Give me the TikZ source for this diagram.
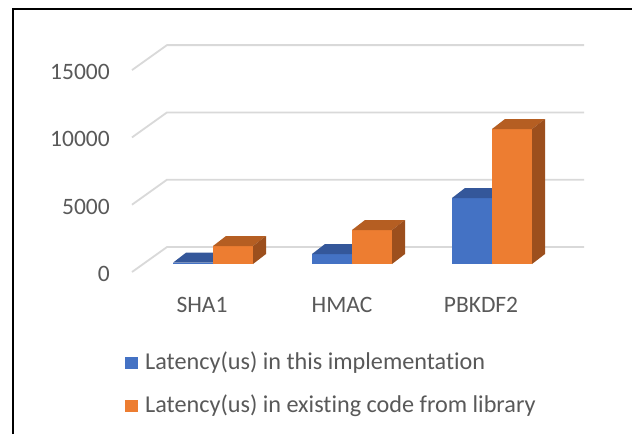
\documentclass[tikz,border=0pt]{standalone}
\usepackage{fontspec}
\setmainfont[Ligatures=NoCommon]{Carlito}
\definecolor{txt}{HTML}{595959}
\definecolor{grid}{HTML}{D9D9D9}
\definecolor{bluefront}{HTML}{4472C4}
\definecolor{bluetop}{HTML}{34579A}
\definecolor{orangefront}{HTML}{ED7D31}
\definecolor{orangetop}{HTML}{B55E22}
\definecolor{orangeside}{HTML}{9C4F1D}
\tikzset{
  gridline/.style={draw=grid, line width=1.8pt},
  axislabel/.style={text=txt, font=\fontsize{23.5}{23.5}\selectfont, inner sep=0pt},
  legendtext/.style={text=txt, font=\fontsize{24.2}{24.2}\selectfont, inner sep=0pt, anchor=west},
  legendkey/.style={minimum size=12.5pt, inner sep=0pt, draw=none},
  frameline/.style={draw=black, line width=2.4pt},
}
% one 3-D column: front face, top and right side
% #1 = x of front-left edge, #2 = height in px, #3 = front colour, #4 = top colour, #5 = side colour
\newcommand{\columnbar}[5]{%
  \fill[#3] (#1,264) rectangle (#1+40,264-#2);
  \fill[#4] (#1,264-#2) -- (#1+13,254-#2) -- (#1+53,254-#2) -- (#1+40,264-#2) -- cycle;
  \fill[#5] (#1+40,264) -- (#1+53,254) -- (#1+53,254-#2) -- (#1+40,264-#2) -- cycle;
}
\begin{document}
\begin{tikzpicture}[x=1pt,y=-1pt]
\useasboundingbox (0,0) rectangle (632,434);
\fill[white] (0,0) rectangle (632,434);

% outer frame (left and top edges only)
\draw[frameline] (13,434) -- (13,9) -- (632,9);

% gridlines with their perspective stubs
\foreach \v/\lab/\nm in {0/0/g0, 1/5000/g1, 2/10000/g2, 3/15000/g3}{
  \pgfmathsetmacro{\yb}{247-\v*67.3}
  \coordinate (\nm front) at (132,\yb+25);
  \coordinate (\nm back) at (167,\yb);
  \coordinate (\nm end) at (584,\yb);
  \draw[gridline] (\nm front) -- (\nm back) -- (\nm end);
  \node[axislabel, anchor=east] (\nm lab) at (110,\yb+27) {\lab};
}

% columns: blue = this implementation, orange = existing library code
\columnbar{173}{1.3}{bluefront}{bluetop}{bluetop}
\columnbar{213}{18}{orangefront}{orangetop}{orangeside}
\columnbar{312}{10}{bluefront}{bluetop}{bluetop}
\columnbar{352}{34}{orangefront}{orangetop}{orangeside}
\columnbar{452}{66}{bluefront}{bluetop}{bluetop}
\columnbar{492}{135}{orangefront}{orangetop}{orangeside}

% category labels
\node[axislabel] (cat1) at (202,305) {SHA1};
\node[axislabel] (cat2) at (342,305) {HMAC};
\node[axislabel] (cat3) at (481,305) {PBKDF2};

% legend
\node[legendkey, fill=bluefront] (key1) at (131.5,363) {};
\node[legendtext] (leg1) at (145,363) {Latency(us) in this implementation};
\node[legendkey, fill=orangefront] (key2) at (131.5,406) {};
\node[legendtext] (leg2) at (145,406) {Latency(us) in existing code from library};
\end{tikzpicture}
\end{document}
